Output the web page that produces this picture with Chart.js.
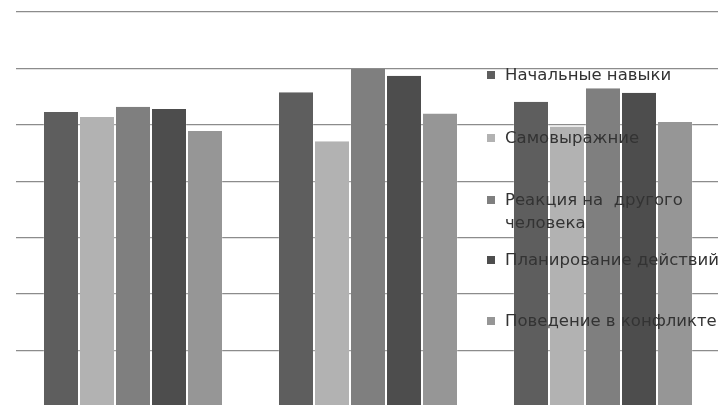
<!DOCTYPE html>
<html>
<head>
<meta charset="utf-8">
<script src="https://cdn.jsdelivr.net/npm/chart.js@4.4.1/dist/chart.umd.min.js"></script>
<style>
  html, body { margin: 0; padding: 0; background: #fff; overflow: hidden; width: 718px; height: 405px; }
  #wrap { position: absolute; left: 0; top: 0; width: 722px; height: 408px; }
  #legend { position: absolute; left: 487px; top: 0; font-family: "DejaVu Sans", sans-serif; font-size: 16.5px; color: #333333; white-space: pre; }
  .item { position: absolute; left: 0; line-height: 23px; }
  .sw { position: absolute; left: 0; top: 8px; width: 8px; height: 8px; }
  .txt { position: absolute; left: 18px; top: 0; }
</style>
</head>
<body>
<div id="wrap"><canvas id="c"></canvas></div>
<div id="legend"></div>
<script>
const categories = ['1', '2', '3'];
const seriesNames = ['Начальные навыки', 'Самовыражние', 'Реакция на  другого\nчеловека', 'Планирование действий', 'Поведение в конфликте'];
const startSkills = [5.23, 5.58, 5.41];
const selfExpression = [5.14, 4.71, 4.97];
const reactionToOther = [5.32, 5.99, 5.65];
const planningActions = [5.28, 5.87, 5.57];
const conflictBehavior = [4.89, 5.20, 5.05];
const seriesColors = ['#5e5e5e', '#b2b2b2', '#7f7f7f', '#4d4d4d', '#969696'];
const yTicks = [0, 1, 2, 3, 4, 5, 6, 7];

const seriesValues = [startSkills, selfExpression, reactionToOther, planningActions, conflictBehavior];

const chart = new Chart(document.getElementById('c'), {
  type: 'bar',
  data: {
    labels: categories,
    datasets: seriesValues.map((vals, i) => ({
      label: seriesNames[i].replace('\n', ' '),
      data: vals,
      backgroundColor: seriesColors[i],
      borderColor: 'rgba(255,255,255,0.2)',
      borderWidth: { left: 1, right: 1, top: 0, bottom: 0 },
      barPercentage: 1.0,
      categoryPercentage: 0.766
    }))
  },
  options: {
    responsive: true,
    maintainAspectRatio: false,
    animation: false,
    layout: { padding: { left: 15.5, right: 1.5, top: 12, bottom: 1 } },
    plugins: { legend: { display: false }, tooltip: { enabled: false } },
    scales: {
      x: {
        display: true,
        ticks: { display: false },
        grid: { display: false, drawTicks: false },
        border: { display: false }
      },
      y: {
        min: yTicks[0],
        max: yTicks[yTicks.length - 1],
        afterBuildTicks: (axis) => { axis.ticks = yTicks.map(v => ({ value: v })); },
        ticks: { display: false },
        grid: { color: '#8c8c8c', lineWidth: 1.3, drawTicks: false },
        border: { display: false }
      }
    }
  }
});

// HTML legend built from the datasets
const legendTops = [63, 126, 188, 248, 309];
const legend = document.getElementById('legend');
chart.data.datasets.forEach((ds, i) => {
  const item = document.createElement('div');
  item.className = 'item';
  item.style.top = legendTops[i] + 'px';
  const sw = document.createElement('span');
  sw.className = 'sw';
  sw.style.background = ds.backgroundColor;
  const txt = document.createElement('span');
  txt.className = 'txt';
  txt.textContent = seriesNames[i];
  item.appendChild(sw);
  item.appendChild(txt);
  legend.appendChild(item);
});
</script>
</body>
</html>
